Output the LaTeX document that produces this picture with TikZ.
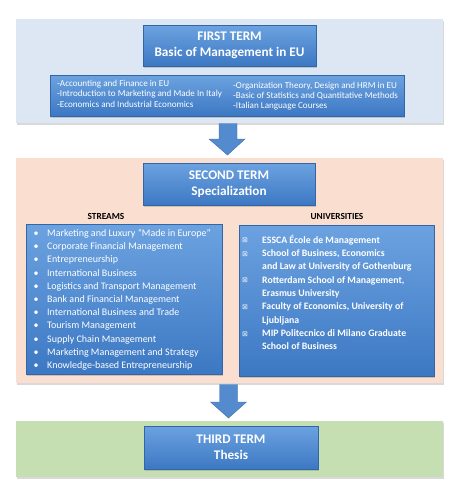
\documentclass[tikz,border=0pt]{standalone}
\usepackage{fontspec}
\setmainfont{Carlito}
\newfontfamily\dejavu{DejaVu Sans}
\usetikzlibrary{shadows}
\definecolor{bandA}{RGB}{221,231,243}
\definecolor{bandB}{RGB}{250,223,208}
\definecolor{bandC}{RGB}{197,223,179}
\definecolor{boxtop}{RGB}{108,162,224}
\definecolor{boxbot}{RGB}{60,120,195}
\definecolor{arrowfill}{RGB}{84,138,206}
\definecolor{arrowline}{RGB}{62,110,170}
\tikzset{
  band/.style={rectangle, inner sep=0pt, outer sep=0pt, draw=none,
    drop shadow={opacity=.3, shadow xshift=0.6pt, shadow yshift=-1.5pt}},
  bluebox/.style={rectangle, inner sep=0pt, outer sep=0pt, top color=boxtop, bottom color=boxbot,
    draw=boxbot!85!black, line width=0.3pt, text=white, align=center,
    drop shadow={opacity=.35, shadow xshift=0.8pt, shadow yshift=-1.5pt}},
  titletext/.style={font=\fontsize{13.2}{16}\selectfont\bfseries},
  coursetext/.style={anchor=base west, inner sep=0pt, text=white, font=\fontsize{9.1}{10}\selectfont},
  streamtext/.style={anchor=base west, inner sep=0pt, text=white, font=\fontsize{10}{12}\selectfont},
  unitext/.style={anchor=base west, inner sep=0pt, text=white, font=\fontsize{9.8}{12}\selectfont\bfseries},
  boxchar/.style={anchor=base, inner sep=0pt, text=white!85!boxtop, font=\dejavu\fontsize{7}{8}\selectfont},
  headtext/.style={inner sep=0pt, font=\fontsize{9.3}{10}\selectfont\bfseries},
  bigarrow/.style={fill=arrowfill, draw=arrowline, line width=0.4pt}
}
\begin{document}
\begin{tikzpicture}[x=1pt,y=-1pt]
\useasboundingbox (0,0) rectangle (460,498);
% bands
\node (band1) [band, fill=bandA, minimum width=427pt, minimum height=104pt] at (229.5,71) {};
\node (band2) [band, fill=bandB, minimum width=427pt, minimum height=225pt] at (229.5,270.5) {};
\node (band3) [band, fill=bandC, minimum width=427pt, minimum height=56pt] at (229.5,449) {};
% arrows
\draw[bigarrow] (219,123.5) -- (237,123.5) -- (237,139) -- (245,139) -- (227.5,155) -- (209,139) -- (219,139) -- cycle;
\draw[bigarrow] (219.5,384.5) -- (237.5,384.5) -- (237.5,402) -- (246.5,402) -- (228.5,418) -- (210.5,402) -- (219.5,402) -- cycle;
% first term
\node (first) [bluebox, titletext, minimum width=173pt, minimum height=41pt] at (229.5,45.5) {FIRST TERM\\Basic of Management in EU};
\node (courses) [bluebox, minimum width=354pt, minimum height=41pt] at (227,95.5) {};
\node (c1) [coursetext] at (57,86.5) {-Accounting and Finance in EU};
\node (c2) [coursetext] at (57,96.8) {-Introduction to Marketing and Made In Italy};
\node (c3) [coursetext] at (57,107.1) {-Economics and Industrial Economics};
\node (c4) [coursetext] at (233,88) {-Organization Theory, Design and HRM in EU};
\node (c5) [coursetext] at (233,98.3) {-Basic of Statistics and Quantitative Methods};
\node (c6) [coursetext] at (233,108.6) {-Italian Language Courses};
% second term
\node (second) [bluebox, titletext, minimum width=172pt, minimum height=42pt] at (229,184) {SECOND TERM\\Specialization};
\node (hstreams) [headtext] at (106,216) {STREAMS};
\node (huni) [headtext] at (337,216) {UNIVERSITIES};
\node (streams) [bluebox, minimum width=196pt, minimum height=150pt] at (124,299) {};
\node (unis) [bluebox, minimum width=195pt, minimum height=151pt] at (336.5,300.5) {};
\foreach \t [count=\i] in {Marketing and Luxury “Made in Europe”, Corporate Financial Management, Entrepreneurship, International Business, Logistics and Transport Management, Bank and Financial Management, International Business and Trade, Tourism Management, Supply Chain Management, Marketing Management and Strategy, Knowledge-based Entrepreneurship}{
  \node (sb\i) [streamtext, anchor=base] at (36,236.5+13.2*\i-13.2) {•};
  \node (s\i) [streamtext] at (47,236.5+13.2*\i-13.2) {\t};
}
\foreach \t [count=\i] in {ESSCA École de Management, {School of Business, Economics}, and Law at University of Gothenburg, {Rotterdam School of Management,}, Erasmus University, {Faculty of Economics, University of}, Ljubljana, MIP Politecnico di Milano Graduate, School of Business}{
  \node (u\i) [unitext] at (262,243.3+13.33*\i-13.33) {\t};
}
\foreach \i in {1,2,4,6,8}{
  \node (ub\i) [boxchar] at (245,242.8+13.33*\i-13.33) {⊠};
}
% third term
\node (third) [bluebox, titletext, minimum width=174pt, minimum height=43pt] at (231,447.5) {THIRD TERM\\Thesis};
\end{tikzpicture}
\end{document}
